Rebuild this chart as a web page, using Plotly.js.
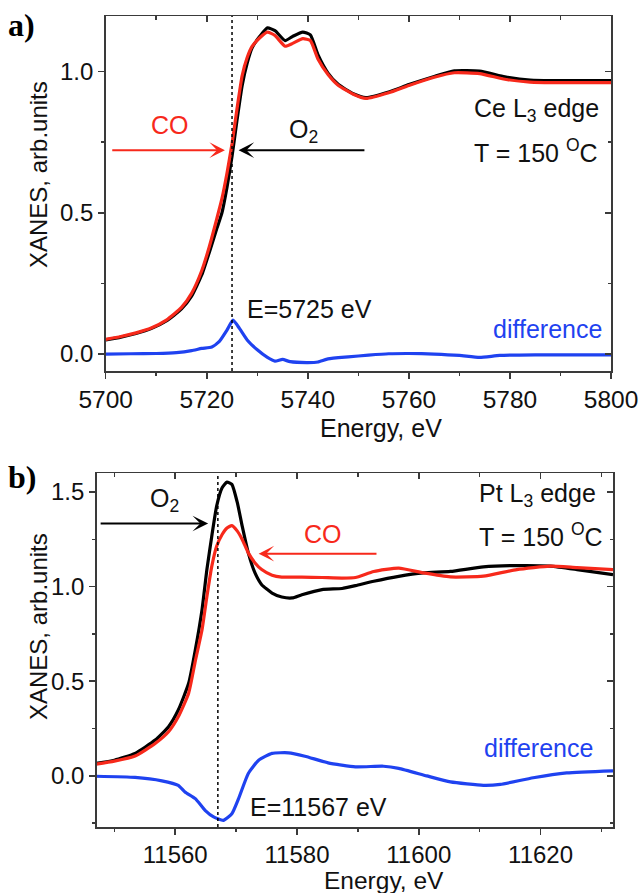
<!DOCTYPE html>
<html><head><meta charset="utf-8">
<script src="https://cdn.plot.ly/plotly-3.0.1.min.js"></script>
<style>html,body{margin:0;padding:0;background:#fff}</style>
</head><body>
<div id="chart" style="width:640px;height:893px"></div>
<script>
// ---- Panel a) Ce L3 edge ----
const ceEnergy = [5700,5703,5706,5709,5712,5715,5717,5719,5720.5,5722,5723,5724,5725,5726,5727,5728,5729,5730.5,5732,5733.5,5735.5,5737,5739,5740.5,5742,5744,5746,5749,5751.5,5756,5760,5765,5769,5774,5779,5784,5790,5795,5800];
const ceO2 = [0.05,0.06,0.073,0.09,0.117,0.16,0.205,0.28,0.36,0.445,0.50,0.59,0.70,0.83,0.95,1.03,1.085,1.125,1.155,1.145,1.11,1.125,1.14,1.13,1.06,0.995,0.955,0.922,0.908,0.928,0.954,0.983,1.003,1.002,0.982,0.970,0.968,0.968,0.968];
const ceCO = [0.052,0.062,0.075,0.092,0.12,0.165,0.215,0.295,0.38,0.48,0.55,0.64,0.745,0.87,0.985,1.05,1.09,1.12,1.14,1.128,1.09,1.10,1.117,1.11,1.045,0.99,0.952,0.92,0.905,0.925,0.951,0.98,0.996,0.993,0.973,0.963,0.961,0.961,0.961];
const ceDiffEnergy = [5700,5705,5710,5714,5717,5719,5721,5722.5,5724,5725.2,5726.5,5728,5730,5732,5733.5,5735,5736.5,5740,5742,5744,5748,5752,5756,5760,5765,5770,5774,5778,5785,5790,5800];
const ceDiff = [0.0,0.001,0.002,0.005,0.012,0.02,0.025,0.045,0.085,0.12,0.09,0.05,0.015,-0.012,-0.025,-0.019,-0.027,-0.03,-0.028,-0.017,-0.01,-0.004,0.001,0.002,0.0,-0.005,-0.012,-0.005,-0.003,-0.003,-0.003];
const ceEdge = 5725;

// ---- Panel b) Pt L3 edge ----
const ptEnergy = [11547,11550,11553.4,11556.7,11558.9,11560.5,11562.2,11563.3,11564.4,11565.2,11566,11566.8,11567.7,11568.5,11569.3,11570.2,11571,11572,11573.1,11574.2,11575.9,11577.5,11579.2,11580.8,11584.1,11587.4,11589.6,11592.6,11596.7,11600.8,11605.2,11610.6,11616.1,11621.6,11626,11631.9];
const ptO2 = [0.066,0.083,0.119,0.189,0.26,0.348,0.489,0.666,0.878,1.09,1.266,1.425,1.522,1.552,1.54,1.443,1.319,1.178,1.072,1.01,0.966,0.945,0.94,0.957,0.984,0.99,1.005,1.028,1.054,1.072,1.08,1.104,1.111,1.108,1.09,1.063];
const ptCO = [0.062,0.078,0.105,0.171,0.233,0.312,0.437,0.607,0.772,0.948,1.107,1.213,1.275,1.31,1.322,1.293,1.249,1.178,1.125,1.09,1.06,1.05,1.05,1.05,1.048,1.045,1.048,1.08,1.098,1.072,1.051,1.055,1.09,1.108,1.1,1.09];
const ptDiffEnergy = [11547,11553.4,11557.8,11560.5,11561.6,11563.3,11564.9,11566.3,11567.9,11569.3,11570.4,11572,11573.7,11575.9,11578.6,11581.3,11585.1,11589.6,11594.2,11596.7,11601.3,11605.2,11610.6,11613.4,11618.8,11624.3,11631.9];
const ptDiff = [-0.002,-0.008,-0.026,-0.05,-0.085,-0.12,-0.182,-0.217,-0.235,-0.2,-0.12,0.013,0.083,0.119,0.122,0.104,0.069,0.048,0.051,0.04,0.0,-0.032,-0.05,-0.045,-0.01,0.016,0.027];
const ptEdge = 11567;

const BLACK = '#000000', RED = '#f7291b', BLUE = '#1f42f0', AX = '#3a3a3a';
const FONT = 'Liberation Sans, Arial, sans-serif';

function line(x, y, color, xa, ya) {
  return {x: x, y: y, type: 'scatter', mode: 'lines', line: {color: color, width: 3.2, shape: 'spline', smoothing: 0.5},
          xaxis: xa, yaxis: ya, hoverinfo: 'skip', showlegend: false};
}
const traces = [
  line(ceEnergy, ceO2, BLACK, 'x', 'y'),
  line(ceEnergy, ceCO, RED, 'x', 'y'),
  line(ceDiffEnergy, ceDiff, BLUE, 'x', 'y'),
  line(ptEnergy, ptO2, BLACK, 'x2', 'y2'),
  line(ptEnergy, ptCO, RED, 'x2', 'y2'),
  line(ptDiffEnergy, ptDiff, BLUE, 'x2', 'y2'),
  {x: [], y: [], xaxis: 'x3', yaxis: 'y3', showlegend: false, hoverinfo: 'skip'},
  {x: [], y: [], xaxis: 'x4', yaxis: 'y4', showlegend: false, hoverinfo: 'skip'}
];

const W = 640, H = 893;
const px = v => v / W, py = v => 1 - v / H;

function ax(extra, inside, minorDtick, fsize) {
  const t = inside ? 'inside' : 'outside';
  return Object.assign({
    showline: true, linecolor: AX, linewidth: 1.5, mirror: false,
    ticks: t, ticklen: 6, tickwidth: 1.5, tickcolor: AX,
    zeroline: false, showgrid: false, autorange: false, fixedrange: true,
    tickfont: {family: FONT, size: fsize || 24, color: '#111'},
    minor: {ticks: t, ticklen: 3.5, tickwidth: 1.5, tickcolor: AX, dtick: minorDtick, showgrid: false}
  }, extra);
}

const xTopDom = [px(105.7), px(611)], yTopDom = [py(371), py(16)];
const xBotDom = [px(96.7), px(613)], yBotDom = [py(827), py(473)];
const ceRangeX = [5700, 5800], ceRangeY = [-0.06, 1.197];
const ptRangeX = [11547.1, 11631.9], ptRangeY = [-0.27, 1.60];

const layout = {
  width: W, height: H, margin: {l: 0, r: 0, t: 0, b: 0},
  paper_bgcolor: '#fff', plot_bgcolor: '#fff', hovermode: false, showlegend: false,
  font: {family: FONT, color: '#111'},
  xaxis: ax({domain: xTopDom, anchor: 'y', range: ceRangeX, dtick: 20, tick0: 5700, tickformat: 'd'}, false, 10, 24.5),
  yaxis: ax({domain: yTopDom, anchor: 'x', range: ceRangeY, dtick: 0.5, tick0: 0, tickformat: '.1f'}, false, 0.25, 24),
  xaxis3: ax({overlaying: 'x', side: 'top', anchor: 'y3', range: ceRangeX, dtick: 20, tick0: 5700, showticklabels: false}, true, 10),
  yaxis3: ax({overlaying: 'y', side: 'right', anchor: 'x3', range: ceRangeY, dtick: 0.5, tick0: 0, showticklabels: false}, true, 0.25),
  xaxis2: ax({domain: xBotDom, anchor: 'y2', range: ptRangeX, dtick: 20, tick0: 11560, tickformat: 'd'}, false, 10, 24),
  yaxis2: ax({domain: yBotDom, anchor: 'x2', range: ptRangeY, dtick: 0.5, tick0: 0, tickformat: '.1f'}, false, 0.25, 24),
  xaxis4: ax({overlaying: 'x2', side: 'top', anchor: 'y4', range: ptRangeX, dtick: 20, tick0: 11560, showticklabels: false}, true, 10),
  yaxis4: ax({overlaying: 'y2', side: 'right', anchor: 'x4', range: ptRangeY, dtick: 0.5, tick0: 0, showticklabels: false}, true, 0.25),
  shapes: [
    {type: 'line', xref: 'x', yref: 'y domain', x0: ceEdge, x1: ceEdge, y0: 0, y1: 1, line: {color: '#000', width: 1.5, dash: 'dot'}},
    {type: 'line', xref: 'x2', yref: 'y2 domain', x0: ptEdge, x1: ptEdge, y0: 0, y1: 1, line: {color: '#000', width: 1.5, dash: 'dot'}}
  ],
  annotations: []
};

const A = layout.annotations;
const ANN = 25;
function txt(text, x, y, xref, yref, opts) {
  A.push(Object.assign({text: text, x: x, y: y, xref: xref, yref: yref, showarrow: false,
    xanchor: 'left', yanchor: 'middle', font: {family: FONT, size: ANN, color: '#111'}}, opts || {}));
}
function arrow(x0, x1, y, xr, yr, color) {
  A.push({x: x1, y: y, ax: x0, ay: y, xref: xr, yref: yr, axref: xr, ayref: yr, text: '',
    showarrow: true, arrowhead: 3, arrowsize: 1.3, arrowwidth: 2, arrowcolor: color, standoff: 0, startstandoff: 0});
}

// panel labels
const labFont = {family: 'Liberation Serif, Times New Roman, serif', size: 32, color: '#000'};
txt('<b>a)</b>', px(6), py(25), 'paper', 'paper', {font: labFont});
txt('<b>b)</b>', px(6), py(477), 'paper', 'paper', {font: labFont});

// axis titles
const titleFont = {family: FONT, size: 25, color: '#111'};
const yTitleFont = {family: FONT, size: 24, color: '#111'};
txt('Energy, eV', px(381), py(428), 'paper', 'paper', {xanchor: 'center', font: titleFont});
txt('Energy, eV', px(384), py(880), 'paper', 'paper', {xanchor: 'center', font: {family: FONT, size: 24.5, color: '#111'}});
txt('XANES, arb.units', px(38), py(175), 'paper', 'paper', {xanchor: 'center', textangle: -90, font: yTitleFont});
txt('XANES, arb.units', px(38), py(627), 'paper', 'paper', {xanchor: 'center', textangle: -90, font: yTitleFont});

// panel a texts
txt('CO', 5712.7, 0.81, 'x', 'y', {xanchor: 'center', font: {family: FONT, size: ANN, color: RED}});
txt('O<sub>2</sub>', 5735.9, 0.79, 'x', 'y');
txt('Ce L<sub>3</sub> edge', 5772.5, 0.865, 'x', 'y');
txt('T = 150 <sup>O</sup>C', 5772.5, 0.72, 'x', 'y');
txt('E=5725 eV', 5727.6, 0.159, 'x', 'y');
txt('difference', 5798.7, 0.088, 'x', 'y', {xanchor: 'right', font: {family: FONT, size: ANN, color: BLUE}});
arrow(5701, 5723.6, 0.722, 'x', 'y', RED);
arrow(5751.5, 5726.3, 0.722, 'x', 'y', BLACK);

// panel b texts
txt('O<sub>2</sub>', 11555.6, 1.46, 'x2', 'y2');
txt('CO', 11584.3, 1.28, 'x2', 'y2', {xanchor: 'center', font: {family: FONT, size: ANN, color: RED}});
txt('Pt L<sub>3</sub> edge', 11609.6, 1.485, 'x2', 'y2');
txt('T = 150 <sup>O</sup>C', 11609.6, 1.27, 'x2', 'y2');
txt('E=11567 eV', 11572, -0.166, 'x2', 'y2');
txt('difference', 11629, 0.147, 'x2', 'y2', {xanchor: 'right', font: {family: FONT, size: ANN, color: BLUE}});
arrow(11547.5, 11565.4, 1.333, 'x2', 'y2', BLACK);
arrow(11593.3, 11573.7, 1.174, 'x2', 'y2', RED);

Plotly.newPlot('chart', traces, layout, {staticPlot: true, displayModeBar: false});
</script>
</body></html>
